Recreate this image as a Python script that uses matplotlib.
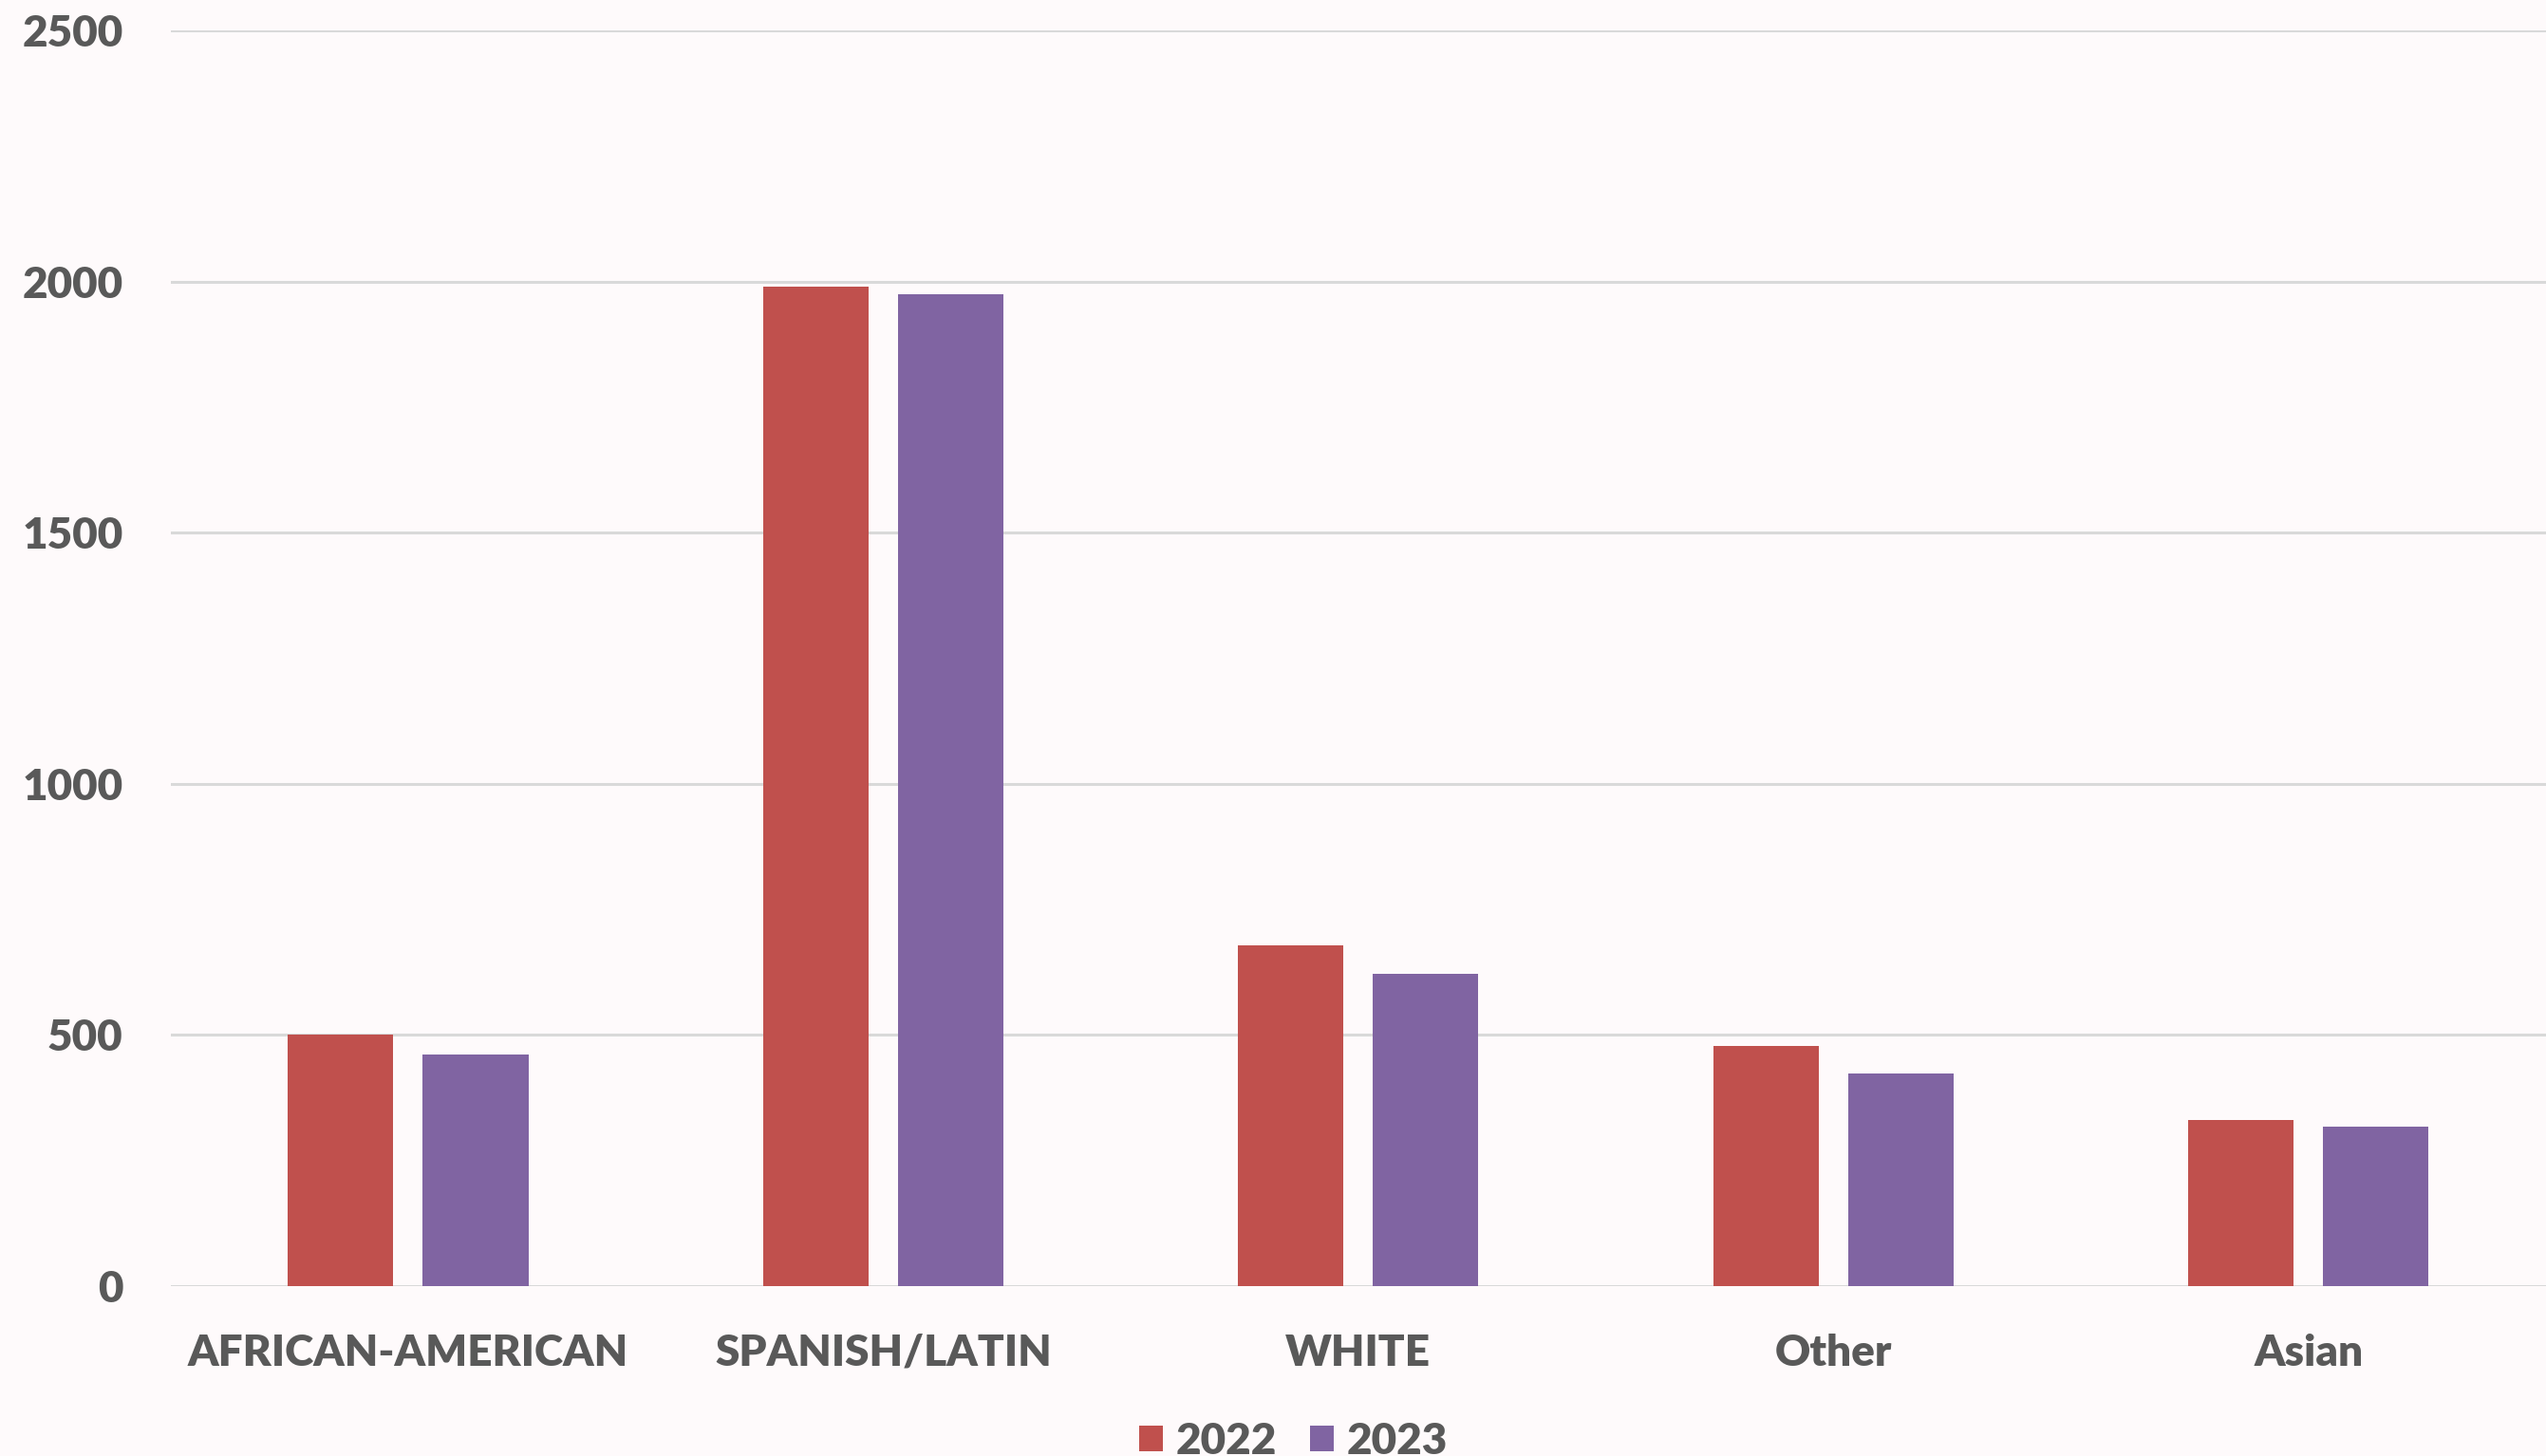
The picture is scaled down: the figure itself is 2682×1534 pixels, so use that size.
import numpy as np
import matplotlib.pyplot as plt

# datos
categorias = ['AFRICAN-AMERICAN', 'SPANISH/LATIN', 'WHITE', 'Other', 'Asian']
anios = ['2022', '2023']
v2022 = [500, 1990, 677, 477, 330]
v2023 = [460, 1975, 622, 422, 317]

colores = {'2022': '#C0504D', '2023': '#8064A2'}
fondo = '#FEFAFB'
gris = '#595959'

plt.rcParams['font.family'] = ['Lato', 'DejaVu Sans']
peso = 'heavy'

fig = plt.figure(figsize=(26.82, 15.34), dpi=100, facecolor=fondo)
ax = fig.add_axes([0.067, 0.117, 0.933, 0.862], facecolor=fondo)

x = np.arange(len(categorias))
ancho = 0.222
off = 0.142
ax.bar(x - off, v2022, ancho, color=colores['2022'], label=anios[0], zorder=3)
ax.bar(x + off, v2023, ancho, color=colores['2023'], label=anios[1], zorder=3)

ax.set_xlim(-0.5, len(categorias) - 0.5)
ax.set_ylim(0, 2500)
ax.set_yticks(np.arange(0, 2501, 500))
ax.grid(axis='y', color='#D9D9D9', lw=2.2, zorder=0)
ax.set_axisbelow(True)
for s in ax.spines.values():
    s.set_visible(False)

ax.set_xticks(x)
ax.set_xticklabels(categorias)
ax.tick_params(axis='x', length=0, pad=36, labelsize=33, labelcolor=gris)
ax.tick_params(axis='y', length=0, pad=36, labelsize=33, labelcolor=gris)
for t in ax.get_xticklabels() + ax.get_yticklabels():
    t.set_fontweight(peso)

fig.legend(loc='lower center', bbox_to_anchor=(0.508, -0.03), ncol=2, frameon=False,
           prop={'size': 33, 'weight': peso}, labelcolor=gris,
           handlelength=0.55, handleheight=0.55, handletextpad=0.3, columnspacing=0.75)

fig.savefig('out.png', dpi=100, facecolor=fondo)
